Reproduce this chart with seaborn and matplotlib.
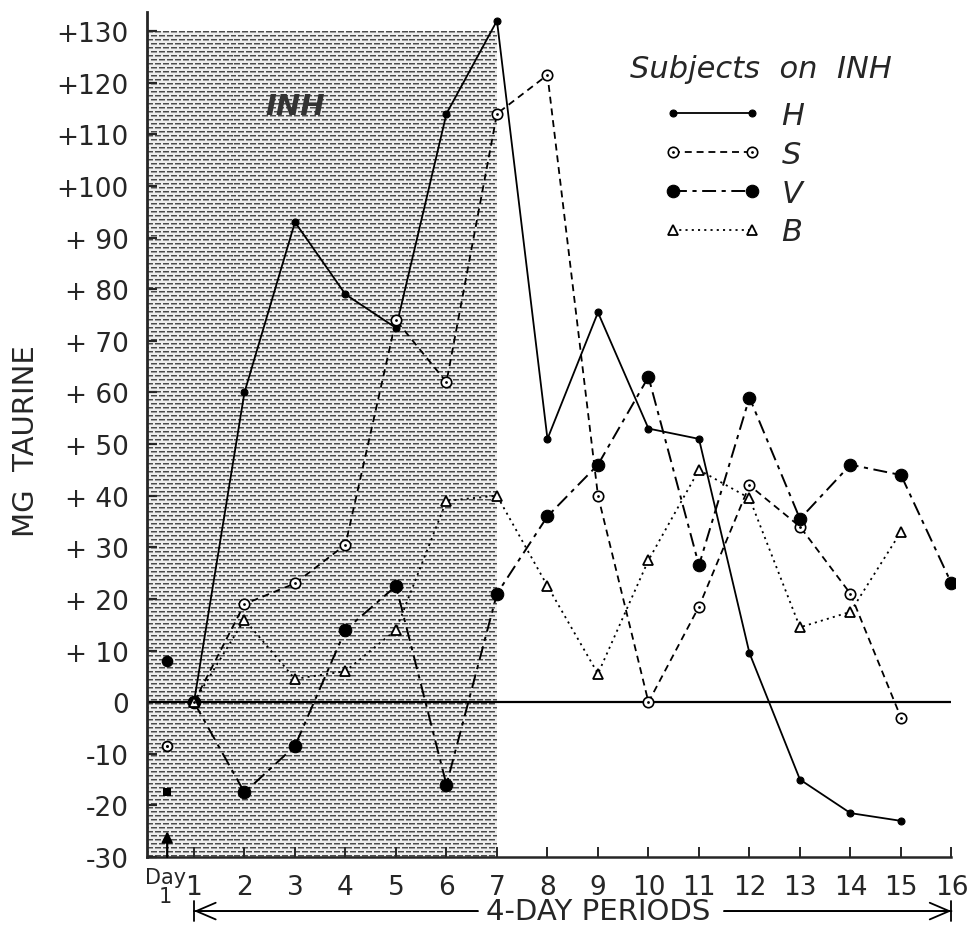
import matplotlib
matplotlib.use("Agg")
import matplotlib.pyplot as plt
import matplotlib.lines as mlines
from matplotlib.legend_handler import HandlerTuple, HandlerLine2D
import numpy as np
import pandas as pd
import seaborn as sns

# ---- data -------------------------------------------------------------
periods_hsb = list(range(1, 16))          # H, S and B end at period 15
periods_v = list(range(1, 17))            # V runs to period 16

h_vals = [0, 60, 93, 79, 72.5, 114, 132, 51, 75.5, 53, 51, 9.5, -15, -21.5, -23]
s_vals = [0, 19, 23, 30.5, 74, 62, 114, 121.5, 40, 0, 18.5, 42, 34, 21, -3]
v_vals = [0, -17.5, -8.5, 14, 22.5, -16, 21, 36, 46, 63, 26.5, 59, 35.5, 46, 44, 23]
b_vals = [0, 16, 4.5, 6, 14, 39, 40, 22.5, 5.5, 27.5, 45, 39.5, 14.5, 17.5, 33]

# single pre-treatment observations on day 1
day1_pos = 0.47
day1_h = -17.5
day1_s = -8.5
day1_v = 8
day1_b = -25

y_ticks = list(range(-30, 131, 10))
y_ticklabels = ["-30", "-20", "-10", "0", "+ 10", "+ 20", "+ 30", "+ 40", "+ 50",
                "+ 60", "+ 70", "+ 80", "+ 90", "+100", "+110", "+120", "+130"]
x_ticks = list(range(1, 17))
x_ticklabels = [str(p) for p in x_ticks]

subjects = ["H", "S", "V", "B"]
inh_end = 7          # last period of the INH treatment

# ---- style ------------------------------------------------------------
sns.set_style("ticks")
plt.rcParams["font.family"] = ["DejaVu Sans"]
plt.rcParams["lines.scale_dashes"] = False

fig = plt.figure(figsize=(9.68, 9.28), dpi=100)
ax = fig.add_axes([147 / 968, 70 / 928, 808 / 968, 845 / 928])

x_left, x_right = 0.07, 16.07
y_low, y_top = -30, 133.7

# shaded INH period: rows of short dashes, like a printed screen tone
shade_h, shade_w = 826, 352
tone = np.full((shade_h, shade_w), 0.93)
rows = np.arange(shade_h)[:, None]
cols = np.arange(shade_w)[None, :]
row_id = rows // 4
dash_on = ((cols + (row_id % 2) * 4) % 8) < 6
tone[((rows % 4) == 0) & dash_on] = 0.30
tone[((rows % 4) == 1) & dash_on] = 0.62
ax.imshow(tone, cmap="gray", vmin=0, vmax=1, interpolation="nearest",
          extent=[x_left, inh_end, -30, 130], aspect="auto", zorder=0)
ax.set_xlim(x_left, x_right)
ax.set_ylim(y_low, y_top)

ax.text(3.0, 115.5, "INH", fontsize=21, fontweight="bold", fontstyle="italic",
        color="#333333", ha="center", va="center", zorder=1)

# zero reference line
ax.hlines(0, x_left, 16, color="k", lw=1.6, zorder=2)

df_h = pd.DataFrame({"period": periods_hsb, "mg": h_vals})
df_s = pd.DataFrame({"period": periods_hsb, "mg": s_vals})
df_v = pd.DataFrame({"period": periods_v, "mg": v_vals})
df_b = pd.DataFrame({"period": periods_hsb, "mg": b_vals})

sns.lineplot(data=df_h, x="period", y="mg", ax=ax, color="k", lw=1.3,
             marker="o", markersize=5, markerfacecolor="k", markeredgecolor="k",
             markeredgewidth=0.8, errorbar=None, zorder=5)
h_line = ax.lines[-1]

sns.lineplot(data=df_s, x="period", y="mg", ax=ax, color="k", lw=1.3,
             linestyle=(0, (5, 3.5)), marker="o", markersize=7.5,
             markerfacecolor="white", markeredgecolor="k", markeredgewidth=1.2,
             errorbar=None, zorder=5)
s_line = ax.lines[-1]
sns.lineplot(data=df_s, x="period", y="mg", ax=ax, color="k", linestyle="none",
             marker="o", markersize=2, markerfacecolor="k", markeredgecolor="k",
             markeredgewidth=0, errorbar=None, zorder=6)
s_dot = ax.lines[-1]

sns.lineplot(data=df_v, x="period", y="mg", ax=ax, color="k", lw=1.4,
             linestyle=(0, (10, 4, 3, 4)), marker="o", markersize=9,
             markerfacecolor="k", markeredgecolor="k", markeredgewidth=0.8,
             errorbar=None, zorder=5)
v_line = ax.lines[-1]

sns.lineplot(data=df_b, x="period", y="mg", ax=ax, color="k", lw=1.3,
             linestyle=(0, (1.5, 3)), marker="^", markersize=7,
             markerfacecolor="white", markeredgecolor="k", markeredgewidth=1.3,
             errorbar=None, zorder=5)
b_line = ax.lines[-1]

# day 1 observations
sns.scatterplot(x=[day1_pos], y=[day1_v], ax=ax, s=70, color="k", linewidth=0, zorder=6)
sns.scatterplot(x=[day1_pos], y=[day1_s], ax=ax, s=50, facecolor="white",
                edgecolor="k", linewidth=1.3, zorder=6)
sns.scatterplot(x=[day1_pos], y=[day1_s], ax=ax, s=5, color="k", linewidth=0, zorder=7)
sns.scatterplot(x=[day1_pos], y=[day1_h], ax=ax, s=30, color="k", marker="s",
                linewidth=0, zorder=6)
ax.annotate("", xy=(day1_pos, day1_b), xytext=(day1_pos, -30),
            arrowprops=dict(arrowstyle="-|>", color="k", lw=1.6,
                            mutation_scale=16, shrinkA=0, shrinkB=0), zorder=6)

# ---- axes -------------------------------------------------------------
for side in ("top", "right"):
    ax.spines[side].set_visible(False)
ax.spines["left"].set_linewidth(2.0)
ax.spines["bottom"].set_linewidth(1.8)
ax.spines["bottom"].set_bounds(x_left, 16)

ax.set_yticks(y_ticks)
ax.set_yticklabels(y_ticklabels)
ax.set_xticks(x_ticks)
ax.set_xticklabels(x_ticklabels)
ax.tick_params(axis="y", direction="in", length=7, width=1.6, pad=13, labelsize=19)
ax.tick_params(axis="x", direction="in", length=7, width=1.4, pad=12, labelsize=19)
ax.set_xlabel("")
ax.set_ylabel("MG  TAURINE", fontsize=21)
ax.yaxis.set_label_coords(-0.133, 0.493)

ax.annotate("Day\n1", xy=(0.43, -0.012), xycoords=("data", "axes fraction"),
            ha="center", va="top", fontsize=15, linespacing=0.95)

# period caption with arrows to both ends of the scale
cap_y = -0.064
cap = ax.annotate("4-DAY PERIODS", xy=(9, cap_y), xycoords=("data", "axes fraction"),
                  ha="center", va="center", fontsize=21)
fig.canvas.draw()
bb = cap.get_window_extent()
inv = ax.transData.inverted()
cap_left = inv.transform((bb.x0 - 8, 0))[0]
cap_right = inv.transform((bb.x1 + 14, 0))[0]
for start, end in ((cap_left, 1), (cap_right, 16)):
    ax.annotate("", xy=(end, cap_y), xytext=(start, cap_y),
                xycoords=("data", "axes fraction"), textcoords=("data", "axes fraction"),
                arrowprops=dict(arrowstyle="->,head_length=0.7,head_width=0.3",
                                color="k", lw=1.3, mutation_scale=20,
                                shrinkA=0, shrinkB=0))
    ax.annotate("", xy=(end, cap_y), xytext=(start, cap_y),
                xycoords=("data", "axes fraction"), textcoords=("data", "axes fraction"),
                arrowprops=dict(arrowstyle="|-|,widthA=0,widthB=0.35",
                                color="k", lw=1.3, mutation_scale=20,
                                shrinkA=0, shrinkB=0))

# legend
fig.text(761 / 968, 1 - 70 / 928, "Subjects  on  INH", fontsize=22,
         fontstyle="italic", ha="center", va="center")
leg = ax.legend(
    handles=[h_line, (s_line, s_dot), v_line, b_line], labels=subjects,
    handler_map={tuple: HandlerTuple(ndivide=1, pad=0),
                 mlines.Line2D: HandlerLine2D(marker_pad=0)},
    numpoints=2, frameon=False,
    prop={"size": 22, "style": "italic"},
    handlelength=2.6, handletextpad=0.95, labelspacing=0.32,
    borderpad=0, borderaxespad=0, loc="upper left",
    bbox_to_anchor=(673 / 968, 1 - 102 / 928), bbox_transform=fig.transFigure)

fig.savefig("out.png", dpi=100)
